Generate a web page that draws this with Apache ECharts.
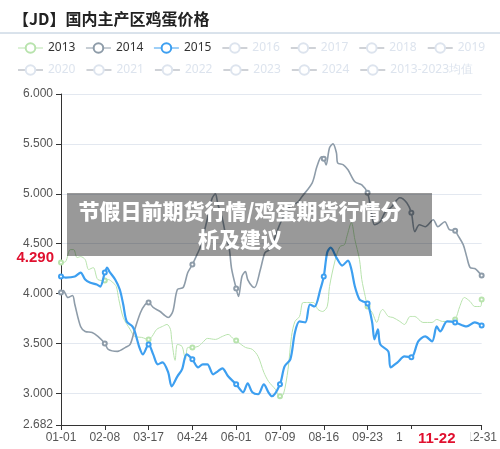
<!DOCTYPE html>
<html>
<head>
<meta charset="utf-8">
<script src="https://cdn.jsdelivr.net/npm/echarts@6/dist/echarts.min.js"></script>
<style>
  html, body { margin: 0; padding: 0; background: #fff; }
  #chart { width: 500px; height: 449px; }
</style>
</head>
<body>
<div id="chart"></div>
<script>
// categories: every day of a leap year, MM-DD
const pad = n => (n < 10 ? '0' : '') + n;
const days = [];
for (let m = 1; m <= 12; m++) {
  const len = new Date(2024, m, 0).getDate();
  for (let d = 1; d <= len; d++) days.push(pad(m) + '-' + pad(d));
}

const legendNames = ['2013', '2014', '2015', '2016', '2017', '2018', '2019',
  '2020', '2021', '2022', '2023', '2024', '2013-2023均值'];
const shownYears = ['2013', '2014', '2015'];

// [day index, price]
const data2013 = [
  [0,4.31],[4,4.32],[8,4.44],[11,4.44],[14,4.36],[17,4.37],[21,4.34],[24,4.24],[28,4.26],[32,4.14],
  [38,4.13],[41,4.14],[45,4.11],[48,4.07],[50,3.95],[54,3.76],[60,3.64],[64,3.57],[70,3.56],[76,3.54],
  [79,3.57],[83,3.64],[88,3.67],[92,3.69],[95,3.64],[96,3.54],[99,3.33],[101,3.49],[105,3.47],[108,3.34],
  [110,3.46],[114,3.46],[119,3.47],[123,3.51],[127,3.55],[134,3.54],[140,3.57],[145,3.59],[150,3.54],[152,3.53],
  [154,3.51],[160,3.46],[166,3.44],[171,3.37],[176,3.21],[180,3.12],[186,3.04],[190,2.97],[193,2.99],[197,3.24],
  [200,3.57],[203,3.72],[207,3.77],[210,3.91],[214,3.91],[219,3.91],[223,3.84],[227,3.82],[231,3.87],[233,4.07],
  [238,4.34],[242,4.47],[246,4.49],[248,4.57],[252,4.71],[255,4.54],[259,4.34],[261,4.14],[264,3.97],[266,3.87],
  [270,3.81],[274,3.71],[277,3.81],[279,3.84],[284,3.77],[288,3.76],[294,3.72],[298,3.69],[303,3.77],[307,3.77],
  [314,3.71],[322,3.71],[326,3.74],[331,3.72],[337,3.72],[342,3.74],[346,3.87],[350,3.96],[355,3.92],[359,3.87],
  [364,3.87],[365,3.94]
];

const data2014 = [
  [0,4.01],[2,4.03],[6,3.96],[10,3.98],[12,3.89],[17,3.67],[21,3.62],[27,3.61],[32,3.57],[38,3.50],
  [41,3.44],[49,3.42],[56,3.46],[60,3.49],[64,3.64],[69,3.81],[73,3.89],[76,3.91],[80,3.86],[86,3.82],
  [90,3.78],[93,3.76],[97,3.82],[101,4.04],[106,4.06],[110,4.21],[114,4.29],[118,4.39],[121,4.47],[127,4.75],
  [131,4.95],[134,5.00],[136,4.90],[140,4.75],[143,4.58],[146,4.45],[148,4.25],[152,4.05],[154,3.97],[157,4.17],
  [160,4.22],[162,4.14],[166,4.07],[168,4.06],[173,4.24],[177,4.41],[181,4.44],[184,4.51],[188,4.64],[193,4.77],
  [200,4.89],[205,4.91],[209,4.97],[218,5.11],[222,5.27],[226,5.37],[228,5.35],[230,5.29],[233,5.46],[236,5.50],
  [239,5.41],[240,5.31],[245,5.29],[249,5.24],[255,5.12],[261,5.09],[266,5.01],[270,4.77],[272,4.69],[277,4.72],
  [281,4.81],[287,4.87],[294,4.96],[300,4.91],[304,4.81],[307,4.62],[311,4.69],[316,4.67],[323,4.74],[327,4.67],
  [333,4.72],[337,4.64],[342,4.63],[344,4.59],[349,4.49],[352,4.37],[355,4.26],[359,4.25],[362,4.22],[365,4.18]
];

const data2015 = [
  [0,4.17],[4,4.16],[12,4.17],[17,4.21],[21,4.14],[25,4.11],[31,4.09],[34,4.07],[38,4.21],[40,4.26],
  [42,4.22],[47,4.14],[51,4.04],[54,3.89],[57,3.72],[62,3.67],[64,3.62],[68,3.46],[71,3.39],[76,3.49],
  [80,3.39],[84,3.29],[88,3.31],[93,3.21],[96,3.07],[101,3.17],[105,3.24],[109,3.39],[114,3.34],[119,3.26],
  [123,3.29],[127,3.29],[132,3.19],[136,3.22],[140,3.25],[145,3.17],[152,3.09],[158,3.01],[162,3.10],[166,3.01],
  [171,2.99],[176,3.09],[180,3.01],[183,2.97],[190,3.09],[194,3.27],[199,3.34],[203,3.61],[207,3.72],[212,3.71],
  [216,3.89],[220,3.87],[225,4.04],[228,4.17],[231,4.41],[234,4.46],[239,4.36],[244,4.28],[249,4.33],[252,4.24],
  [255,4.07],[259,3.94],[262,3.92],[266,3.90],[270,3.71],[272,3.54],[275,3.64],[277,3.49],[284,3.42],[286,3.26],
  [292,3.31],[298,3.37],[304,3.36],[310,3.52],[316,3.57],[322,3.52],[326,3.67],[329,3.62],[335,3.72],[342,3.71],
  [352,3.67],[359,3.71],[365,3.68]
];

const seriesData = { '2013': data2013, '2014': data2014, '2015': data2015 };
const seriesColor = { '2013': '#b8e3ad', '2014': '#8e9ca9', '2015': '#3d9ff0' };
const seriesWidth = { '2013': 1, '2014': 1.6, '2015': 2.2 };

const pointerDay = '11-22';
const pointerPrice = 4.29;

const chart = echarts.init(document.getElementById('chart'));

const selected = {};
legendNames.forEach(n => { selected[n] = shownYears.indexOf(n) >= 0; });

const option = {
  animation: false,
  title: {
    text: '【JD】国内主产区鸡蛋价格',
    left: 8,
    top: 6,
    textStyle: { fontFamily: 'Noto Sans CJK SC', fontSize: 16, fontWeight: 'bold', color: '#222' }
  },
  legend: {
    data: legendNames,
    selected: selected,
    left: 12,
    top: 37,
    width: 485,
    itemWidth: 25,
    itemHeight: 12,
    itemGap: 10,
    inactiveColor: '#dde4ee',
    lineStyle: { width: 1 },
    itemStyle: { borderWidth: 1 },
    textStyle: { color: '#333', fontSize: 12, fontFamily: 'Noto Sans' }
  },
  grid: { left: 61, right: 18, top: 94, bottom: 24 },
  xAxis: {
    type: 'category',
    data: days,
    boundaryGap: false,
    axisLine: { lineStyle: { color: '#333' } },
    axisTick: { alignWithLabel: true, lineStyle: { color: '#333' } },
    axisLabel: { interval: 37, showMaxLabel: true, color: '#555', fontSize: 12, margin: 7 },
    axisPointer: {
      show: true,
      status: 'show',
      value: days.indexOf(pointerDay),
      triggerTooltip: false,
      lineStyle: { opacity: 0 },
      label: {
        show: true, color: '#e0102f', fontWeight: 'bold', fontSize: 15,
        backgroundColor: '#fff', padding: [2, 15, 2, 15], shadowBlur: 0, margin: 4
      }
    }
  },
  yAxis: {
    type: 'value',
    min: 2.682,
    max: 6,
    axisLine: { show: true, lineStyle: { color: '#333' } },
    axisTick: { show: true, lineStyle: { color: '#333' } },
    splitLine: { lineStyle: { color: '#e3e8f0' } },
    axisLabel: { color: '#555', fontSize: 12, formatter: v => v.toFixed(3) },
    axisPointer: {
      show: true,
      status: 'show',
      value: pointerPrice,
      triggerTooltip: false,
      lineStyle: { opacity: 0 },
      label: {
        show: true, color: '#e0102f', fontWeight: 'bold', fontSize: 15,
        backgroundColor: '#fff', padding: [0, 4, 14, 4], shadowBlur: 0,
        formatter: p => Number(p.value).toFixed(3)
      }
    }
  },
  series: legendNames.map(name => ({
    name: name,
    type: 'line',
    data: seriesData[name] || [],
    smooth: 0.3,
    symbol: 'emptyCircle',
    symbolSize: 4,
    showAllSymbol: 'auto',
    color: seriesColor[name] || '#c8d3e0',
    itemStyle: { borderWidth: 1 },
    lineStyle: { width: seriesWidth[name] || 1 },
    z: name === '2015' ? 4 : (name === '2014' ? 3 : 2)
  })),
  graphic: [
    {
      type: 'line',
      shape: { x1: 0, y1: 33, x2: 500, y2: 33 },
      style: { stroke: '#b4c6d8', lineWidth: 1 }
    },
    {
      type: 'rect',
      shape: { x: 67, y: 193, width: 365, height: 63 },
      style: { fill: 'rgba(0,0,0,0.4)' },
      z: 100
    },
    {
      type: 'text',
      x: 240,
      y: 225,
      z: 101,
      style: {
        text: '节假日前期货行情/鸡蛋期货行情分\n析及建议',
        fill: '#fff',
        font: '900 21px "Noto Sans CJK SC"',
        lineHeight: 28,
        align: 'center',
        verticalAlign: 'middle'
      }
    }
  ]
};

chart.setOption(option);
</script>
</body>
</html>
